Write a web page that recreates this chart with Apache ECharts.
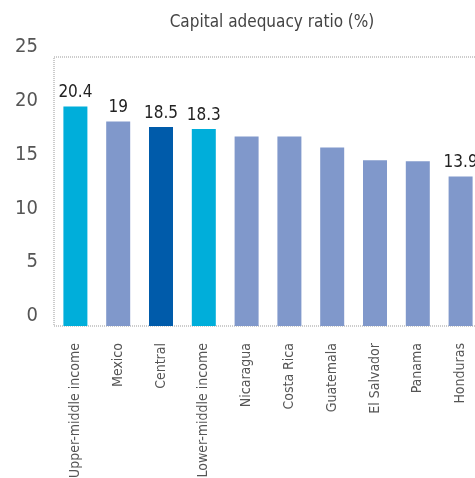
<!DOCTYPE html>
<html>
<head>
<meta charset="utf-8">
<script src="https://cdn.jsdelivr.net/npm/echarts@6/dist/echarts.min.js"></script>
<style>
  html, body { margin: 0; padding: 0; background: #fff; }
  #chart { width: 475px; height: 478px; }
</style>
</head>
<body>
<div id="chart"></div>
<script>
var FONT = '"Liberation Sans Narrow", "DejaVu Sans Condensed", "Roboto", sans-serif'

var categories = ['Upper-middle income', 'Mexico', 'Central', 'Lower-middle income',
  'Nicaragua', 'Costa Rica', 'Guatemala', 'El Salvador', 'Panama', 'Honduras']
var values = [20.4, 19, 18.5, 18.3, 17.6, 17.6, 16.6, 15.4, 15.3, 13.9]
// which bars carry a value label
var showLabel = [true, true, true, true, false, false, false, false, false, true]
// colour group per bar: income group / country / region
var groups = ['income', 'country', 'region', 'income', 'country', 'country', 'country', 'country', 'country', 'country']
var yTicks = [0, 5, 10, 15, 20, 25]

var groupColors = {
  income: '#00AEDA',
  country: '#8098CB',
  region: '#005BAA'
}

var chart = echarts.init(document.getElementById('chart'))

var option = {
  animation: false,
  title: {
    text: 'Capital adequacy ratio (%)',
    left: 267,
    textAlign: 'center',
    top: 9,
    textStyle: {
      fontFamily: FONT,
      fontSize: 17,
      fontWeight: 'normal',
      color: '#444'
    }
  },
  grid: {
    left: 54,
    right: -7,
    top: 57,
    bottom: 152,
    outerBoundsMode: 'none',
    containLabel: false,
    show: true,
    borderColor: '#999',
    borderWidth: 1,
    borderType: 'dotted'
  },
  xAxis: {
    type: 'category',
    data: categories,
    axisLine: { show: false },
    axisTick: { show: false },
    axisLabel: {
      rotate: 90,
      interval: 0,
      margin: 17,
      fontFamily: FONT,
      fontSize: 14,
      color: '#555'
    }
  },
  yAxis: {
    type: 'value',
    min: yTicks[0],
    max: yTicks[yTicks.length - 1],
    interval: 5,
    splitLine: { show: false },
    axisLine: { show: false },
    axisTick: { show: false },
    axisLabel: {
      margin: 16,
      verticalAlign: 'bottom',
      fontFamily: FONT,
      fontSize: 20,
      color: '#555'
    }
  },
  series: [{
    type: 'bar',
    barWidth: 24,
    data: values.map(function (v, i) {
      return {
        value: v,
        itemStyle: { color: groupColors[groups[i]] },
        label: {
          show: showLabel[i],
          position: 'top',
          distance: 5,
          fontFamily: FONT,
          fontSize: 17,
          color: '#222'
        }
      }
    })
  }]
}

chart.setOption(option)
</script>
</body>
</html>
